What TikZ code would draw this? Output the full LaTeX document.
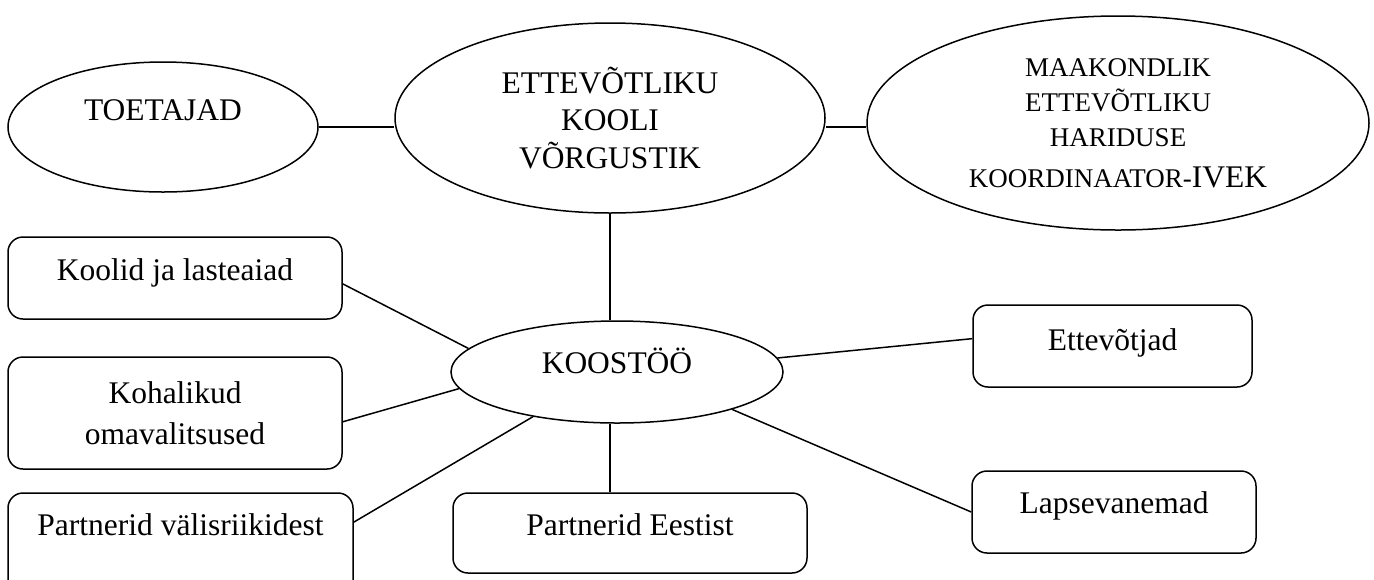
\documentclass[tikz,border=0pt]{standalone}
\usepackage{fontspec}
\setmainfont{Liberation Serif}
\usetikzlibrary{positioning,shapes.geometric}

\begin{document}
\begin{tikzpicture}[x=0.5pt,y=-0.5pt,line width=0.75pt,
    oval/.style={ellipse,draw,inner sep=0pt,font=\fontsize{15.75pt}{18.75pt}\selectfont},
    plate/.style={draw,rounded corners=7.5pt,inner sep=0pt,font=\fontsize{15.75pt}{18.75pt}\selectfont}]
  \useasboundingbox (0,0) rectangle (1374,579);
  % top row
  \node[oval,minimum width=155pt,minimum height=65pt,text height=11pt,text depth=18pt](toetajad) at (163,127){TOETAJAD};
  \node[oval,minimum width=215pt,minimum height=95pt,align=center](vorgustik) at (610,118){ETTEVÕTLIKU\\KOOLI\\VÕRGUSTIK};
  \node[oval,minimum width=251pt,minimum height=107pt,align=center,font=\fontsize{13.5pt}{17.5pt}\selectfont](maakond) at (1118,123){MAAKONDLIK\\ETTEVÕTLIKU\\HARIDUSE\\[3pt]KOORDINAATOR-{\fontsize{15.75pt}{18.75pt}\selectfont IVEK}};
  % middle
  \node[oval,minimum width=166pt,minimum height=51pt,text height=11pt,text depth=10pt](koostoo) at (617,372){KOOSTÖÖ};
  % boxes
  \node[plate,minimum width=167pt,text height=21.5pt,text depth=19.5pt](koolid) at (175,278){Koolid ja lasteaiad};
  \node[plate,minimum width=167pt,minimum height=56pt,align=center,font=\fontsize{15.75pt}{20.5pt}\selectfont](kohalikud) at (175,413){Kohalikud\\omavalitsused};
  \node[plate,minimum width=172.5pt,text height=21pt,text depth=32.5pt](valis) at (180.5,546.5){Partnerid välisriikidest};
  \node[plate,minimum width=177pt,text height=21pt,text depth=19pt](eesti) at (630,533){Partnerid Eestist};
  \node[plate,minimum width=139.5pt,text height=22.5pt,text depth=18.5pt](ettevotjad) at (1112.5,346){Ettevõtjad};
  \node[plate,minimum width=142pt,text height=21pt,text depth=20pt](lapse) at (1114,512){Lapsevanemad};
  % connectors
  \draw (toetajad.east) -- (toetajad.east -| vorgustik.west);
  \draw (toetajad.east -| vorgustik.east) -- (toetajad.east -| maakond.west);
  \draw (vorgustik.south) -- (vorgustik.south |- koostoo.north);
  \draw (vorgustik.south |- koostoo.south) -- (vorgustik.south |- eesti.north);
  \draw (koolid.-2) -- (koostoo.171);
  \draw (kohalikud.-3) -- (koostoo.186);
  \draw (valis.8) -- (koostoo.208);
  \draw (koostoo.5) -- (ettevotjad.177);
  \draw (koostoo.-18) -- (lapse.west);
\end{tikzpicture}
\end{document}
